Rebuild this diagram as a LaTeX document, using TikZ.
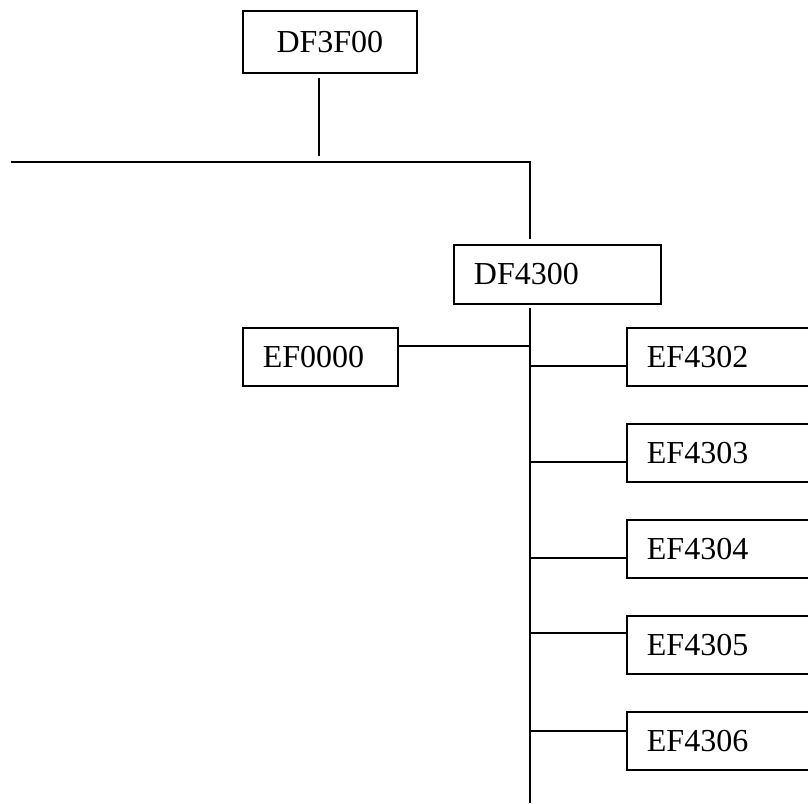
\documentclass[tikz,border=0pt]{standalone}
\usepackage{fontspec}
\setmainfont{Liberation Serif}
\begin{document}
\begin{tikzpicture}[x=1pt,y=-1pt,
  line width=1.8pt,
  box/.style={draw, line width=1.8pt, anchor=north west, inner xsep=20pt, inner ysep=0pt,
    align=left, font=\fontsize{32}{36}\selectfont},
  wire/.style={draw, line width=1.8pt}]
\useasboundingbox (0,0) rectangle (808,803);

% boxes
\node[box, inner xsep=0pt, align=center, text width=174pt, minimum height=62pt] (top) at (242,10) {DF3F00};
\node[box, text width=167pt, minimum height=59pt] (mid) at (453,244) {DF4300};
\node[box, text width=115pt, minimum height=58pt] (e0) at (242,327) {EF0000};
\node[box, text width=170pt, minimum height=58pt] (e2) at (626,327) {EF4302};
\node[box, text width=170pt, minimum height=58pt] (e3) at (626,423) {EF4303};
\node[box, text width=170pt, minimum height=58pt] (e4) at (626,519) {EF4304};
\node[box, text width=170pt, minimum height=58pt] (e5) at (626,615) {EF4305};
\node[box, text width=170pt, minimum height=58pt] (e6) at (626,711) {EF4306};

% bus, drop and trunk points
\coordinate (up) at (319,78);
\coordinate (upend) at (319,156);
\coordinate (busL) at (11,162);
\coordinate (busR) at (530,162);
\coordinate (drop) at (530,239);
\coordinate (t0) at (530,308);
\coordinate (tend) at (530,803);
\coordinate (j0) at (530,346);
\coordinate (j2) at (530,366);
\coordinate (j3) at (530,462);
\coordinate (j4) at (530,558);
\coordinate (j5) at (530,633);
\coordinate (j6) at (530,731);

% connectors
\draw[wire] (up) -- (upend);
\draw[wire] (busL) -- (busR) -- (drop);
\draw[wire] (t0) -- (tend);
\draw[wire] (e0.east |- j0) -- (j0);
\draw[wire] (j2) -- (j2 -| e2.west);
\draw[wire] (j3) -- (j3 -| e3.west);
\draw[wire] (j4) -- (j4 -| e4.west);
\draw[wire] (j5) -- (j5 -| e5.west);
\draw[wire] (j6) -- (j6 -| e6.west);
\end{tikzpicture}
\end{document}
